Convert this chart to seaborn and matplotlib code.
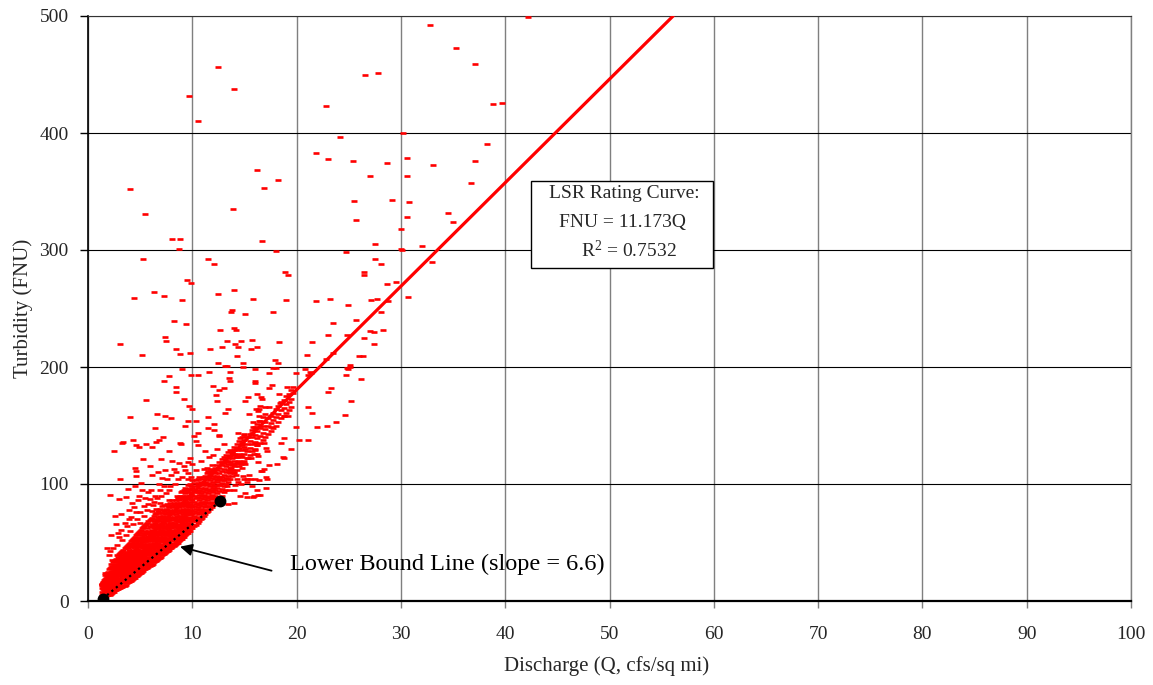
import matplotlib
matplotlib.use('Agg')
import matplotlib.pyplot as plt
import seaborn as sns
import pandas as pd
from matplotlib.patches import Rectangle

sns.set_theme(style='white')
plt.rcParams['font.family'] = ['Liberation Serif', 'DejaVu Serif']
plt.rcParams['mathtext.fontset'] = 'custom'
plt.rcParams['mathtext.rm'] = 'Liberation Serif'
plt.rcParams['mathtext.it'] = 'Liberation Serif:italic'

# ---------------- data ----------------
x_ticks = [0, 10, 20, 30, 40, 50, 60, 70, 80, 90, 100]
y_ticks = [0, 100, 200, 300, 400, 500]

# LSR rating curve as drawn
line_q = [1.2, 56.1]
line_fnu = [14.1, 500.0]

# lower bound line end points
lb_q = [1.4, 12.7]
lb_fnu = [1.8, 85.5]

# sparse high observations (Q, FNU)
high_points = [
    (12.5, 456), (14.0, 438), (9.7, 432), (10.5, 410), (22.8, 423), (24.2, 397), (21.9, 383),
    (23.0, 378), (16.2, 368), (18.2, 360), (16.9, 353), (4.0, 352), (13.9, 335), (5.5, 331),
    (16.7, 308), (8.1, 309), (8.8, 309), (8.7, 301), (32.8, 492), (42.2, 499), (35.3, 473),
    (37.1, 459), (26.6, 450), (27.8, 451), (38.8, 425), (39.7, 426), (30.2, 400), (38.3, 391),
    (25.4, 376), (28.7, 374), (30.6, 379), (33.1, 373), (37.1, 376), (27.0, 363), (30.6, 363),
    (36.7, 357), (25.5, 342), (29.1, 343), (30.8, 341), (25.7, 326), (30.6, 328), (34.5, 332),
    (35.0, 324), (30.0, 318), (27.5, 305), (32.0, 303), (30.0, 301),
]

# mid-range observations (Q, FNU)
mid_points = [
    (5.3, 292), (11.5, 292), (12.1, 288), (18.0, 299), (24.7, 298), (18.9, 281), (19.2, 279),
    (9.5, 274), (9.9, 272), (14.0, 266), (6.3, 264), (12.5, 262), (7.3, 261), (4.4, 259),
    (9.0, 257), (15.8, 258), (19.0, 257), (21.9, 256), (23.2, 258), (13.8, 249), (13.7, 247),
    (17.7, 247), (15.1, 245), (8.2, 239), (9.4, 237), (23.5, 238), (12.7, 232), (14.0, 233),
    (14.2, 232), (7.4, 226), (7.5, 222), (3.1, 220), (13.3, 222), (14.7, 222), (15.7, 223),
    (14.1, 220), (18.3, 221), (21.5, 221), (23.0, 227), (12.8, 217), (14.4, 217), (16.2, 217),
    (15.6, 215), (8.4, 215), (11.7, 215), (8.8, 211), (5.2, 210), (9.8, 212), (14.3, 209),
    (21.0, 210), (17.9, 206), (18.2, 203), (12.5, 203), (13.1, 201), (13.3, 201), (14.9, 200),
    (14.9, 203), (17.7, 199), (18.0, 199), (16.0, 198), (20.8, 198), (9.0, 198), (24.8, 199),
    (11.6, 196), (13.6, 196), (17.4, 195), (19.9, 195), (21.3, 196), (7.8, 192), (9.9, 193),
    (10.5, 193), (13.5, 191), (21.1, 193), (24.7, 193), (7.3, 188), (13.6, 188), (16.0, 188),
    (16.0, 186), (17.6, 185), (12.0, 184), (8.4, 183), (13.0, 182), (17.4, 182), (19.1, 183),
    (19.7, 183), (23.3, 182), (8.4, 179), (12.6, 180), (23.0, 179), (12.3, 176), (16.2, 177),
    (16.7, 173), (18.3, 177), (15.3, 174), (5.6, 172), (9.2, 173), (12.4, 171), (15.1, 171),
    (18.4, 169), (9.7, 167), (16.5, 167), (17.4, 166), (17.0, 166), (21.1, 166), (10.0, 164),
    (16.1, 164), (16.4, 164), (13.4, 164), (13.1, 161), (15.4, 160), (16.3, 162), (6.6, 160),
    (7.4, 158), (8.0, 156), (4.0, 157), (11.5, 157), (16.4, 158), (18.8, 158), (19.2, 158),
    (21.5, 161), (24.6, 159), (9.6, 154), (10.4, 154), (15.8, 153), (16.4, 154), (23.8, 153),
    (12.1, 151), (9.3, 150), (6.4, 148), (11.5, 148), (15.8, 149), (16.0, 149), (17.5, 149),
    (19.9, 149), (22.0, 149), (22.9, 150), (12.1, 146), (10.5, 144), (15.7, 144), (15.0, 142),
    (7.2, 140), (10.2, 141), (12.6, 141), (14.4, 144), (20.2, 138), (21.1, 138), (4.3, 138),
    (30.1, 300), (27.5, 292), (28.1, 288), (33.0, 290), (26.5, 281), (26.5, 279), (28.7, 271),
    (29.5, 273), (30.7, 260), (27.1, 257), (27.7, 258), (28.8, 256), (24.9, 253), (28.1, 247),
    (25.7, 240), (27.0, 231), (27.4, 230), (28.3, 232), (24.8, 227), (26.5, 225), (27.4, 220),
    (23.5, 212), (22.8, 207), (26.0, 209), (26.4, 209), (25.1, 202), (25.1, 200), (24.9, 198),
    (21.4, 195), (26.2, 190), (19.7, 178), (25.2, 171), (18.5, 135), (19.5, 130), (18.7, 123),
]

# lower observations outside the dense core (Q, FNU)
low_points = [
    (16.6, 174), (14.6, 90), (18.8, 122), (18.1, 117), (17.4, 116), (17.1, 131), (17.2, 128),
    (16.3, 119), (16.7, 111), (17.1, 106), (17.2, 104), (16.4, 103), (16.0, 104), (15.5, 104),
    (15.2, 104), (15.0, 104), (14.7, 100), (17.1, 97), (14.0, 95), (13.5, 95), (16.5, 91),
    (15.2, 89), (15.8, 89), (14.0, 84), (13.4, 83), (15.6, 122), (15.1, 117), (14.8, 114),
    (14.7, 124), (13.7, 114), (13.8, 116), (14.2, 108), (15.4, 108), (14.4, 102), (12.7, 99),
    (13.3, 98), (12.7, 106), (12.3, 106), (12.1, 98), (11.9, 89), (14.0, 129), (14.4, 130),
    (15.1, 130), (14.8, 133), (13.9, 126), (14.2, 123), (16.0, 129), (16.2, 126), (16.9, 135),
    (18.8, 139), (3.4, 136), (4.6, 133), (4.9, 132), (5.6, 134), (6.1, 132), (6.5, 136),
    (6.8, 138), (2.5, 128), (5.3, 121), (7.0, 121), (8.8, 135), (8.9, 134), (7.8, 128),
    (5.9, 115), (4.5, 114), (4.6, 111), (7.4, 112), (8.2, 113), (8.7, 118), (9.6, 119),
    (4.6, 107), (6.1, 108), (7.1, 105), (3.1, 104), (9.3, 112), (10.4, 112), (11.1, 113),
    (10.4, 137), (10.5, 133), (11.2, 128), (12.0, 125), (10.0, 117), (9.6, 109), (9.9, 106),
    (9.6, 104), (3.8, 96), (4.5, 98), (5.2, 95), (5.8, 93), (6.9, 95), (7.8, 95), (2.1, 91),
    (3.0, 87), (3.6, 89), (4.8, 86), (5.9, 87), (7.8, 86), (8.6, 88), (6.3, 85), (6.9, 84),
    (7.3, 82), (3.9, 78), (3.2, 74), (2.6, 73), (5.4, 81), (5.0, 76), (6.1, 77), (6.5, 79),
    (2.2, 56), (1.8, 45), (2.1, 43), (2.7, 66), (3.2, 61), (3.7, 64), (2.0, 39), (2.3, 35),
    (1.6, 24), (1.8, 22), (1.3, 14), (13.4, 104), (14.3, 104), (14.9, 107), (15.2, 102),
    (15.7, 98), (15.9, 90), (16.3, 91), (15.1, 92), (13.1, 95), (16.6, 111), (16.9, 113),
    (15.0, 118), (16.0, 135), (16.2, 133), (14.6, 139), (15.0, 143), (12.6, 142), (14.2, 130),
    (14.1, 125), (14.5, 124), (15.9, 126), (16.3, 124), (14.0, 117), (14.7, 117), (15.3, 122),
    (11.4, 114), (11.5, 110), (12.1, 110), (12.4, 103), (12.8, 103), (13.6, 110), (14.0, 109),
    (11.2, 101), (14.4, 118), (12.8, 119), (13.4, 120), (3.3, 135), (14.1, 99), (16.2, 95),
]

# moderately dense readings just above the core (Q, FNU)
fringe_points = [
    (2.8, 48), (3.3, 52), (3.6, 56), (4.0, 60), (4.3, 66), (4.7, 70), (5.0, 67), (5.4, 73),
    (5.7, 78), (6.2, 82), (6.6, 88), (7.0, 90), (7.5, 92), (7.9, 98), (8.3, 100), (8.6, 104),
    (9.0, 106), (2.4, 45), (3.0, 55), (3.5, 67), (4.1, 72), (4.4, 80), (4.9, 90), (5.5, 88),
    (6.0, 95), (6.8, 100), (7.3, 98), (8.0, 108), (8.4, 110), (9.2, 115), (9.8, 122),
    (10.8, 120), (11.6, 123), (12.4, 130), (13.0, 134), (3.9, 70), (4.6, 76), (5.8, 83),
    (6.4, 90), (7.6, 104), (2.9, 58), (4.2, 84), (5.1, 101), (6.7, 110), (8.1, 120),
]

# dense core, first set of discharge columns and their turbidity readings
core_q = [1.3, 1.5, 1.7, 1.9, 2.1, 2.3, 2.5, 2.7, 2.9, 3.1, 3.3, 3.5, 3.7, 3.9, 4.1, 4.3,
          4.5, 4.7, 4.9, 5.1, 5.3, 5.5, 5.7, 5.9, 6.1, 6.3, 6.5, 6.7, 6.9, 7.1, 7.3, 7.5,
          7.7, 7.9, 8.1, 8.3, 8.5, 8.7, 8.9, 9.1, 9.3, 9.5, 9.7, 9.9, 10.2, 10.5, 10.8,
          11.1, 11.4, 11.7, 12.0, 12.4, 12.8, 13.2, 13.6, 14.0, 14.5, 15.0, 15.5, 16.0,
          16.5, 17.0, 17.5, 18.0, 18.5, 19.0, 19.5]
core_fnu = [
    [3, 5, 8, 11, 14],
    [2, 4, 7, 9, 12, 15, 18],
    [4, 6, 9, 12, 14, 17, 20],
    [5, 7, 10, 13, 16, 19, 22, 25],
    [5, 8, 11, 13, 16, 18, 21, 24, 28],
    [7, 9, 12, 15, 17, 20, 23, 26, 30],
    [8, 10, 13, 16, 19, 21, 24, 27, 31, 34],
    [9, 12, 14, 17, 20, 23, 26, 29, 32, 36],
    [10, 13, 16, 18, 21, 24, 27, 30, 33, 38],
    [11, 14, 17, 20, 22, 25, 28, 31, 34, 37, 41],
    [12, 15, 18, 21, 24, 27, 29, 32, 36, 39, 43],
    [13, 16, 19, 22, 25, 28, 31, 34, 37, 40, 45],
    [15, 18, 21, 24, 27, 30, 33, 36, 39, 42, 47],
    [16, 19, 22, 25, 28, 31, 34, 37, 40, 44, 49],
    [17, 20, 23, 27, 30, 33, 36, 39, 42, 46, 51],
    [19, 22, 25, 28, 31, 34, 37, 41, 44, 48, 53],
    [20, 23, 26, 29, 33, 36, 39, 42, 46, 50, 55],
    [21, 24, 28, 31, 34, 37, 41, 44, 48, 52, 57],
    [23, 26, 29, 32, 36, 39, 42, 46, 50, 54, 59],
    [24, 27, 31, 34, 37, 41, 44, 48, 52, 56, 61],
    [26, 29, 32, 35, 39, 42, 46, 49, 53, 58, 63],
    [27, 30, 34, 37, 40, 44, 47, 51, 55, 60, 65],
    [28, 32, 35, 38, 42, 45, 49, 53, 57, 62, 67],
    [30, 33, 37, 40, 43, 47, 51, 55, 59, 64, 69],
    [31, 35, 38, 42, 45, 49, 52, 56, 61, 66, 71],
    [33, 36, 40, 43, 47, 50, 54, 58, 63, 68, 73],
    [34, 38, 41, 45, 48, 52, 56, 60, 65, 70, 75],
    [36, 39, 43, 46, 50, 54, 58, 62, 66, 72, 77],
    [37, 41, 44, 48, 52, 55, 59, 63, 68, 73, 79],
    [39, 42, 46, 49, 53, 57, 61, 65, 70, 75, 81],
    [40, 44, 47, 51, 55, 58, 62, 67, 72, 77],
    [42, 45, 49, 52, 56, 60, 64, 69, 74, 79],
    [43, 47, 50, 54, 58, 62, 66, 70, 76, 81],
    [45, 48, 52, 56, 59, 63, 67, 72, 78, 84],
    [46, 50, 54, 57, 61, 65, 69, 74, 80, 86],
    [48, 52, 55, 59, 63, 67, 71, 76, 82],
    [50, 53, 57, 61, 65, 69, 73, 78, 84, 90],
    [51, 55, 58, 62, 66, 70, 75, 80, 86],
    [53, 57, 60, 64, 68, 72, 77, 82, 88, 93],
    [55, 58, 62, 66, 70, 74, 79, 84, 90],
    [56, 60, 64, 68, 72, 76, 81, 86, 92, 97],
    [58, 62, 66, 70, 74, 78, 83, 88, 94],
    [60, 64, 68, 72, 76, 80, 85, 90, 96],
    [62, 66, 70, 74, 78, 82, 87, 92, 98],
    [64, 69, 73, 77, 81, 85, 90, 95, 101],
    [67, 72, 76, 80, 84, 89, 93, 99, 104],
    [70, 75, 79, 84, 88, 92, 97, 102],
    [73, 78, 83, 87, 91, 96, 100, 106],
    [76, 81, 86, 90, 95, 99, 104, 109],
    [79, 84, 89, 94, 98, 103, 108, 113],
    [82, 88, 93, 97, 102, 107, 112],
    [86, 92, 97, 102, 107, 112, 116],
    [90, 96, 101, 106, 111, 116, 121],
    [100, 105, 110, 115, 120, 125],
    [104, 109, 114, 119, 124, 129],
    [110, 115, 120, 126, 132],
    [115, 120, 126, 131, 137],
    [120, 126, 132, 138],
    [125, 131, 137, 143],
    [130, 136, 142, 148],
    [135, 141, 148, 154],
    [140, 147, 153, 160],
    [145, 152, 158],
    [150, 157, 164],
    [156, 163, 170],
    [161, 168, 175],
    [166, 173, 180],
]

# dense core, second (interleaved) set of columns
core2_q = [1.4, 1.6, 1.8, 2.0, 2.2, 2.4, 2.6, 2.8, 3.0, 3.2, 3.4, 3.6, 3.8, 4.0, 4.2, 4.4,
           4.6, 4.8, 5.0, 5.2, 5.4, 5.6, 5.8, 6.0, 6.2, 6.4, 6.6, 6.8, 7.0, 7.2, 7.4, 7.6,
           7.8, 8.0, 8.2, 8.4, 8.6, 8.8, 9.0, 9.2, 9.4, 9.6, 9.8, 10.0, 10.35, 10.65,
           10.95, 11.25, 11.55, 11.85, 12.2, 12.6, 13.0, 13.4, 13.8, 14.25, 14.75, 15.25,
           15.75, 16.25, 16.75, 17.25, 17.75, 18.25, 18.75, 19.25]
core2_fnu = [
    [4, 6, 10, 13, 16],
    [3, 5, 8, 11, 13, 16, 19, 22],
    [5, 8, 11, 13, 15, 18, 21, 24],
    [6, 9, 12, 14, 17, 20, 23, 27],
    [6, 10, 12, 14, 17, 19, 22, 25, 29, 32],
    [8, 11, 14, 16, 18, 22, 25, 28, 33],
    [9, 11, 15, 18, 20, 22, 25, 28, 30, 35],
    [10, 13, 15, 19, 22, 25, 28, 31, 35, 39],
    [11, 15, 17, 19, 23, 26, 29, 32, 36, 40],
    [12, 16, 19, 22, 23, 26, 30, 33, 35, 38, 42],
    [13, 17, 20, 23, 26, 29, 30, 33, 35, 38, 44],
    [14, 17, 20, 23, 26, 29, 32, 35, 38, 41, 46],
    [16, 20, 23, 26, 29, 32, 35, 38, 41, 45, 48],
    [17, 21, 24, 26, 29, 32, 35, 38, 41, 43, 47, 50],
    [18, 21, 24, 26, 29, 32, 35, 38, 40, 43, 47, 52],
    [20, 24, 27, 30, 32, 35, 38, 40, 43, 46, 50, 54],
    [21, 25, 27, 30, 32, 35, 38, 41, 44, 47, 51, 56],
    [22, 25, 27, 30, 33, 35, 38, 40, 44, 47, 52, 58],
    [24, 28, 30, 33, 35, 38, 40, 43, 46, 50, 54, 60],
    [25, 28, 30, 33, 36, 38, 40, 43, 47, 51, 55, 62],
    [27, 31, 33, 36, 38, 41, 43, 45, 48, 51, 56, 64],
    [28, 32, 33, 36, 39, 42, 45, 49, 53, 58, 66],
    [29, 33, 34, 37, 40, 44, 47, 51, 55, 60, 68],
    [31, 34, 36, 39, 41, 44, 46, 49, 53, 58, 63, 70],
    [32, 35, 37, 41, 44, 46, 48, 52, 55, 60, 65],
    [34, 37, 39, 43, 46, 49, 51, 55, 58, 62, 67, 74],
    [35, 37, 40, 44, 47, 51, 53, 57, 62, 68],
    [37, 40, 42, 45, 48, 52, 56, 60, 64, 70, 75],
    [38, 41, 44, 47, 51, 54, 57, 61, 66, 71],
    [40, 43, 45, 48, 51, 55, 59, 63, 67, 73, 78],
    [41, 43, 46, 50, 53, 57, 60, 64, 70, 75],
    [43, 46, 48, 51, 54, 58, 62, 68, 72, 78, 83],
    [44, 46, 49, 52, 56, 61, 65, 69, 74, 80],
    [45, 47, 52, 55, 59, 63, 67, 71, 76, 82],
    [47, 49, 53, 56, 59, 63, 67, 72, 78, 84],
    [49, 51, 55, 57, 61, 65, 69, 74, 80, 86],
    [50, 52, 56, 59, 63, 68, 72, 77, 82, 88],
    [52, 54, 58, 61, 64, 68, 73, 78, 84, 90],
    [53, 56, 59, 63, 67, 71, 76, 81, 87, 94],
    [55, 58, 61, 64, 68, 73, 78, 83, 88, 95],
    [57, 59, 63, 66, 70, 74, 79, 85, 90, 96],
    [58, 61, 65, 67, 71, 77, 81, 87, 93, 99],
    [60, 63, 66, 69, 74, 78, 83, 89, 95, 100],
    [62, 65, 68, 71, 75, 80, 86, 91, 97, 103],
    [65, 68, 71, 75, 79, 83, 88, 93, 98, 103],
    [68, 71, 74, 78, 82, 86, 91, 95, 101, 106],
    [71, 75, 77, 81, 85, 90, 94, 99, 104],
    [74, 78, 80, 85, 89, 93, 97, 102, 107],
    [77, 81, 84, 88, 92, 96, 101, 106, 111],
    [80, 85, 87, 91, 95, 100, 105, 110, 116],
    [84, 90, 95, 99, 104, 109, 114],
    [88, 94, 99, 104, 109, 114, 119],
    [93, 98, 103, 108, 113, 118, 123],
    [102, 107, 112, 117, 122, 127],
    [107, 112, 117, 122, 127],
    [112, 118, 123, 129, 134],
    [118, 123, 129, 135, 140],
    [122, 128, 134, 140],
    [128, 134, 140, 146],
    [133, 139, 145, 151],
    [138, 144, 150, 157],
    [143, 150, 156],
    [148, 155, 161],
    [153, 160, 167],
    [158, 165, 172],
    [163, 170, 177],
]

# ---------------- build table ----------------
rows = list(high_points) + list(mid_points) + list(low_points) + list(fringe_points)
for qs, cols in ((core_q, core_fnu), (core2_q, core2_fnu)):
    for q, ys in zip(qs, cols):
        for f in ys:
            rows.append((q, f))
df = pd.DataFrame(rows, columns=['Q', 'FNU'])

# ---------------- figure ----------------
W, H = 1153, 685
fig = plt.figure(figsize=(W / 100, H / 100), dpi=100)
ax = fig.add_axes([88 / W, 1 - 601 / H, 1043 / W, 585 / H])
ax.set_xlim(0, 100)
ax.set_ylim(0, 500)
ax.set_xticks(x_ticks)
ax.set_yticks(y_ticks)

ax.xaxis.grid(True, color='#7f7f7f', lw=1.0, zorder=0)
ax.yaxis.grid(True, color='black', lw=0.8, zorder=0)
ax.set_axisbelow(True)

sns.scatterplot(data=df, x='Q', y='FNU', marker='_', s=14, linewidth=1.9,
                color='red', edgecolor='red', ax=ax, zorder=3, legend=False)
sns.lineplot(x=line_q, y=line_fnu, color='red', lw=2.3, ax=ax, zorder=4)

ax.plot(lb_q, lb_fnu, ls=(0, (1, 1.6)), color='black', lw=1.6, zorder=5)
ax.plot(lb_q, lb_fnu, ls='none', marker='o', ms=7.5, color='black', zorder=6)

# arrow + annotation
ax.annotate('', xy=(8.82, 46.4), xytext=(17.6, 25.9),
            arrowprops=dict(arrowstyle='-|>', color='black', lw=1.3,
                            mutation_scale=18, shrinkA=0, shrinkB=0), zorder=7)
ax.text(19.4, 26.5, 'Lower Bound Line (slope = 6.6)', fontsize=17.5,
        ha='left', va='baseline', color='black', zorder=7)

# rating curve text box
ax.add_patch(Rectangle((42.5, 284.6), 17.4, 74.4, facecolor='white',
                       edgecolor='black', lw=1.0, zorder=8))
ax.text(51.4, 348.7, 'LSR Rating Curve:', fontsize=14, ha='center', va='center', zorder=9)
ax.text(51.2, 323.9, 'FNU = 11.173Q', fontsize=14, ha='center', va='center', zorder=9)
ax.text(51.9, 300.0, r'R$^{\mathrm{2}}$ = 0.7532', fontsize=14, ha='center', va='center', zorder=9)

# spines / ticks
for s in ['left', 'bottom']:
    ax.spines[s].set_color('black')
ax.spines['left'].set_linewidth(1.2)
ax.spines['bottom'].set_linewidth(1.6)
ax.spines['top'].set_color('#333333')
ax.spines['top'].set_linewidth(0.8)
ax.spines['right'].set_color('#7f7f7f')
ax.spines['right'].set_linewidth(1.0)

ax.tick_params(axis='x', direction='out', length=5, width=1, color='#7f7f7f',
               pad=13, labelsize=14, bottom=True)
ax.tick_params(axis='y', direction='out', length=6, width=1, color='black',
               pad=8, labelsize=14, left=True)

ax.set_xlabel('Discharge (Q, cfs/sq mi)', fontsize=15)
ax.set_ylabel('Turbidity (FNU)', fontsize=15)
ax.xaxis.set_label_coords(0.497, -0.095)
ax.yaxis.set_label_coords(-0.053, 0.5)

fig.savefig('out.png', dpi=100, facecolor='white')
